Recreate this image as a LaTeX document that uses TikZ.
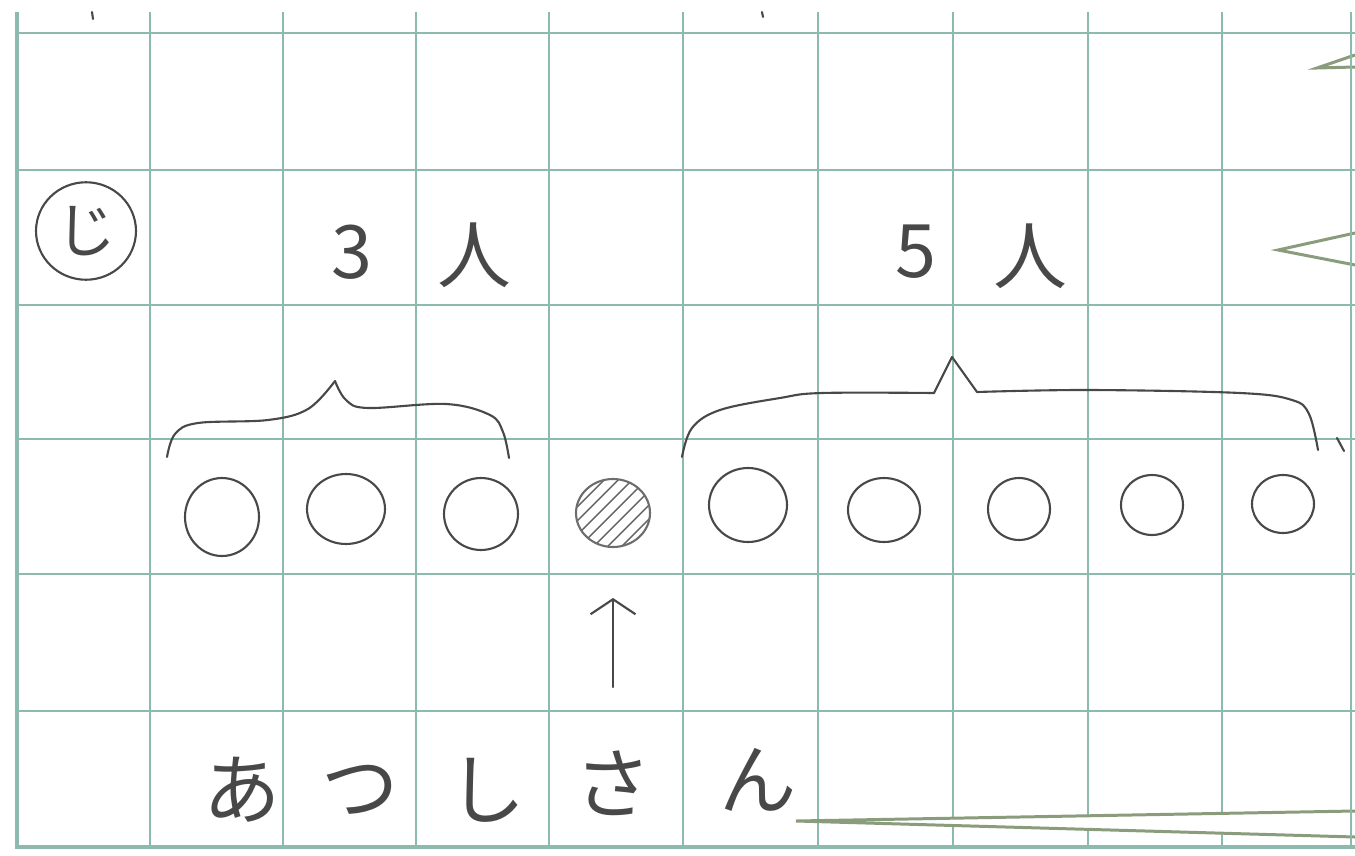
\documentclass[tikz,border=0pt]{standalone}
\usepackage{fontspec}
\newfontfamily\jpfont{Noto Sans CJK JP}
\usetikzlibrary{arrows.meta,calc,shapes.geometric}
\definecolor{ink}{RGB}{72,72,72}
\definecolor{gridteal}{RGB}{140,186,174}
\definecolor{tailgreen}{RGB}{138,156,124}

\begin{document}
\begin{tikzpicture}[x=0.02cm,y=-0.02cm,
 gline/.style={draw=gridteal,line width=1.1pt},
 edge/.style={draw=gridteal,line width=2.2pt},
 hand/.style={draw=ink,line width=1.2pt,line cap=round,line join=round},
 bead/.style 2 args={ellipse,draw=ink,line width=1.2pt,minimum width=#1,minimum height=#2,inner sep=0pt},
 jp/.style={font=\jpfont\fontsize{42}{42}\selectfont,text=ink,inner sep=0pt},
 tail/.style={draw=tailgreen,line width=1.7pt,line join=miter},
 arr/.style={-{Straight Barb[length=0.3cm,width=0.9cm]},hand}]
\useasboundingbox (0,0) rectangle (1355,855);
\fill[white] (0,0) rectangle (1355,855);
% squared paper
\foreach \x in {150,283,416,549,683,818,953,1088,1222} \draw[gline] (\x,12)--(\x,847);
\foreach \y in {33,170,305,439,574,711} \draw[gline] (17,\y)--(1355,\y);
\draw[edge] (17,12)--(17,847)--(1355,847);
% callout tails
\fill[white] (1355,55)--(1317,68)--(1355,67)--cycle;
\fill[white] (1355,233)--(1278,250)--(1355,265)--cycle;
\fill[white] (1355,811)--(796,821)--(1355,837)--cycle;
\draw[tail] (1355,55)--(1317,68)--(1355,67);
\draw[tail] (1355,233)--(1278,250)--(1355,265);
\draw[tail] (1355,811)--(796,821)--(1355,837);
\draw[gline] (1351,12)--(1351,847);
% specks at the top
\draw[hand] (92,12)--(93,19);\draw[hand] (762,12)--(763,17);
% labels
\node[ellipse,draw=ink,line width=1.2pt,minimum width=2cm,minimum height=1.95cm,jp,font=\jpfont\fontsize{34}{34}\selectfont] (ji) at (86,231) {じ};
\node[jp] (n3) at (352,252) {3};
\node[jp] (p3) at (474,255) {人};
\node[jp] (n5) at (916,252) {5};
\node[jp] (p5) at (1030,256) {人};
% beads
\node[bead={1.48cm}{1.56cm}] (b1) at (222,517) {};
\node[bead={1.56cm}{1.40cm}] (b2) at (346,509) {};
\node[bead={1.48cm}{1.44cm}] (b3) at (481,514) {};
\node[bead={1.48cm}{1.36cm},draw=ink!80,path picture={
  \foreach \k in {-5,...,5} \draw[ink!85,line width=0.8pt]
   ($(path picture bounding box.center)+(\k*0.28cm-1.2cm,-1.2cm)$)--++(2.4cm,2.4cm);}] (hatch) at (613,513) {};
\node[bead={1.56cm}{1.48cm}] (b5) at (748,505) {};
\node[bead={1.44cm}{1.28cm}] (b6) at (884,510) {};
\node[bead={1.24cm}{1.24cm}] (b7) at (1019,509) {};
\node[bead={1.24cm}{1.20cm}] (b8) at (1152,505) {};
\node[bead={1.24cm}{1.16cm}] (b9) at (1283,504) {};
% braces
\draw[hand] plot[smooth,tension=.6] coordinates {(167,457)(175,434)(198,423)(268,420)(308,409)(335,381)};
\draw[hand] plot[smooth,tension=.6] coordinates {(335,381)(346,400)(368,408)(446,404)(490,415)(503,432)(509,458)};
\draw[hand] plot[smooth,tension=.6] coordinates {(682,457)(692,428)(720,410)(780,398)(822,393)(934,393)}
 --(952,357)--(977,392)--plot[smooth,tension=.6] coordinates {(977,392)(1089,390)(1240,393)(1292,400)(1309,414)(1318,450)};
\draw[hand] (1337,438)--(1344,451);
% name row
\node[jp,font=\jpfont\fontsize{44}{44}\selectfont] (a) at (242,790) {あ};
\node[jp,font=\jpfont\fontsize{44}{44}\selectfont] (tsu) at (360,790) {つ};
\node[jp,font=\jpfont\fontsize{44}{44}\selectfont] (shi) at (487,790) {し};
\node[jp,font=\jpfont\fontsize{44}{44}\selectfont] (sa) at (613,783) {さ};
\node[jp,font=\jpfont\fontsize{44}{44}\selectfont] (n) at (758,780) {ん};
\draw[arr,shorten <=1.92cm,shorten >=1.7cm] (sa.center)--(hatch.center);
\end{tikzpicture}
\end{document}
